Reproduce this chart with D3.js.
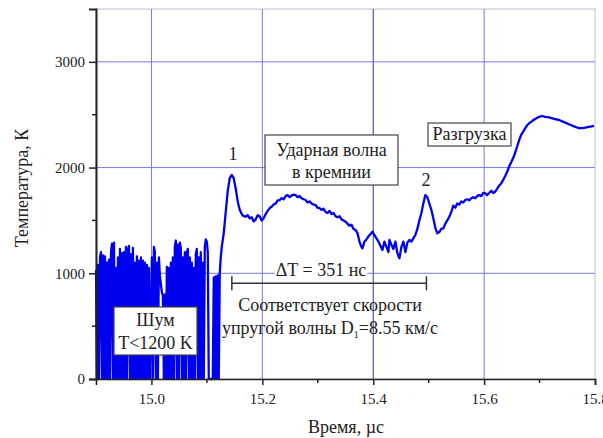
<!DOCTYPE html>
<meta charset="utf-8">
<style>
    body { margin: 0; background: #fff; }
    svg text { font-family: "Liberation Serif", "Times New Roman", Tinos, "DejaVu Serif", serif !important; fill: #222; }
</style>
<div id="my_dataviz"></div>
<script src="https://d3js.org/d3.v7.min.js"></script>
<script>

    // noise part of the record (signal dropouts to zero)
    var noiseTime = [14.9000, 14.9018, 14.9036, 14.9054, 14.9072, 14.9090, 14.9108, 14.9126, 14.9144, 14.9162,
        14.9180, 14.9198, 14.9216, 14.9234, 14.9252, 14.9270, 14.9288, 14.9306, 14.9324, 14.9342,
        14.9360, 14.9378, 14.9396, 14.9414, 14.9432, 14.9450, 14.9468, 14.9486, 14.9504, 14.9522,
        14.9540, 14.9558, 14.9576, 14.9594, 14.9612, 14.9630, 14.9648, 14.9666, 14.9684, 14.9702,
        14.9720, 14.9738, 14.9756, 14.9774, 14.9792, 14.9810, 14.9828, 14.9846, 14.9864, 14.9882,
        14.9900, 14.9918, 14.9936, 14.9954, 14.9972, 15.0008, 15.0026, 15.0044, 15.0062, 15.0080,
        15.0098, 15.0116, 15.0134, 15.0152, 15.0170, 15.0188, 15.0206, 15.0224, 15.0242, 15.0260,
        15.0278, 15.0296, 15.0314, 15.0332, 15.0350, 15.0368, 15.0386, 15.0404, 15.0422, 15.0440,
        15.0458, 15.0476, 15.0494, 15.0512, 15.0530, 15.0548, 15.0566, 15.0584, 15.0602, 15.0620,
        15.0638, 15.0656, 15.0674, 15.0692, 15.0710, 15.0728, 15.0746, 15.0764, 15.0782, 15.0800,
        15.0818, 15.0836, 15.0854, 15.0872, 15.0890, 15.0908, 15.0926, 15.0944, 15.0962, 15.0980,
        15.0998, 15.1016, 15.1034, 15.1052, 15.1106, 15.1124, 15.1142, 15.1160, 15.1178, 15.1196,
        15.1214, 15.1232, 15.1250, 15.1268, 15.1304, 15.1340, 15.1376, 15.1412];
    var noiseTemp = [1030, 0, 1080, 0, 1150, 1200, 0, 1170, 0, 1160,
        0, 1100, 0, 1130, 0, 1200, 1280, 0, 1290, 0,
        1050, 0, 1150, 0, 1230, 0, 1190, 0, 1200, 0,
        1250, 0, 1220, 1260, 0, 1180, 0, 1240, 0, 1100,
        0, 1160, 0, 1120, 0, 1150, 0, 1120, 0, 1100,
        0, 1080, 0, 1050, 0, 1150, 0, 1250, 1200, 0,
        1100, 0, 1150, 980, 900, 820, 790, 0, 800, 0,
        1060, 0, 1050, 0, 1100, 0, 1150, 0, 1250, 1310,
        0, 1270, 0, 1290, 1240, 0, 1150, 0, 1200, 0,
        1200, 1230, 0, 1150, 0, 1100, 0, 1050, 0, 1180,
        1230, 0, 1150, 0, 1200, 0, 1100, 0, 1250, 1320,
        1300, 1200, 0, 0, 0, 960, 0, 970, 0, 980,
        0, 1000, 1150, 1250, 1380, 1580, 1780, 1900];

    // shock wave and release part
    var waveTime = [15.1448, 15.1484, 15.1520, 15.1556, 15.1592, 15.1628, 15.1664, 15.1700, 15.1736, 15.1772,
        15.1808, 15.1844, 15.1880, 15.1916, 15.1952, 15.1988, 15.2024, 15.2060, 15.2096, 15.2132,
        15.2168, 15.2204, 15.2240, 15.2276, 15.2312, 15.2348, 15.2384, 15.2420, 15.2456, 15.2492,
        15.2528, 15.2564, 15.2600, 15.2636, 15.2672, 15.2708, 15.2744, 15.2780, 15.2816, 15.2852,
        15.2888, 15.2924, 15.2960, 15.2996, 15.3032, 15.3068, 15.3104, 15.3140, 15.3176, 15.3212,
        15.3248, 15.3284, 15.3320, 15.3356, 15.3392, 15.3428, 15.3464, 15.3500, 15.3536, 15.3572,
        15.3608, 15.3644, 15.3680, 15.3716, 15.3752, 15.3788, 15.3806, 15.3842, 15.3878, 15.3914,
        15.3950, 15.3986, 15.4022, 15.4058, 15.4094, 15.4130, 15.4166, 15.4202, 15.4238, 15.4274,
        15.4292, 15.4328, 15.4364, 15.4400, 15.4436, 15.4472, 15.4508, 15.4544, 15.4580, 15.4616,
        15.4652, 15.4688, 15.4724, 15.4760, 15.4796, 15.4832, 15.4868, 15.4904, 15.4940, 15.4976,
        15.5012, 15.5048, 15.5084, 15.5120, 15.5156, 15.5192, 15.5228, 15.5264, 15.5300, 15.5336,
        15.5372, 15.5408, 15.5444, 15.5480, 15.5516, 15.5552, 15.5588, 15.5624, 15.5660, 15.5696,
        15.5732, 15.5768, 15.5804, 15.5840, 15.5876, 15.5912, 15.5948, 15.5984, 15.6020, 15.6056,
        15.6092, 15.6128, 15.6164, 15.6200, 15.6236, 15.6272, 15.6308, 15.6344, 15.6380, 15.6416,
        15.6452, 15.6488, 15.6524, 15.6560, 15.6596, 15.6632, 15.6668, 15.6704, 15.6740, 15.6776,
        15.6812, 15.6866, 15.6920, 15.6992, 15.7046, 15.7100, 15.7172, 15.7262, 15.7352, 15.7442,
        15.7532, 15.7622, 15.7712, 15.7802, 15.7892, 15.7982];
    var waveTemp = [1930, 1900, 1800, 1680, 1600, 1560, 1540, 1535, 1550, 1520,
        1530, 1490, 1510, 1550, 1540, 1500, 1520, 1560, 1590, 1615,
        1630, 1650, 1660, 1690, 1693, 1710, 1700, 1730, 1740, 1720,
        1735, 1745, 1740, 1720, 1730, 1710, 1700, 1693, 1670, 1680,
        1660, 1650, 1646, 1620, 1617, 1600, 1610, 1580, 1570, 1590,
        1560, 1570, 1540, 1530, 1540, 1510, 1500, 1488, 1470, 1450,
        1460, 1420, 1410, 1380, 1300, 1250, 1236, 1300, 1320, 1350,
        1370, 1394, 1360, 1330, 1300, 1260, 1220, 1300, 1250, 1200,
        1315, 1270, 1230, 1300, 1190, 1142, 1250, 1300, 1200, 1290,
        1315, 1300, 1330, 1362, 1420, 1500, 1568, 1660, 1740, 1720,
        1660, 1600, 1520, 1430, 1378, 1390, 1420, 1425, 1470, 1500,
        1535, 1580, 1640, 1620, 1660, 1650, 1680, 1670, 1693, 1700,
        1690, 1710, 1720, 1710, 1730, 1740, 1730, 1760, 1757, 1740,
        1760, 1780, 1760, 1772, 1800, 1830, 1850, 1883, 1920, 1960,
        2010, 2050, 2090, 2140, 2200, 2260, 2310, 2340, 2370, 2400,
        2419, 2440, 2460, 2480, 2488, 2480, 2475, 2460, 2450, 2430,
        2410, 2390, 2372, 2375, 2385, 2394];

    var xGrid = [15.0, 15.2, 15.4, 15.6];
    var yGrid = [1000, 2000, 3000];
    var xTicks = [15.0, 15.2, 15.4, 15.6, 15.8];
    var xMinor = [15.1, 15.3, 15.5, 15.7];
    var yTicks = [0, 1000, 2000, 3000];
    var yMinor = [500, 1500, 2500];

    // delta T interval: peak 1 to peak 2
    var intervalStart = 15.145, intervalEnd = 15.496, intervalLevel = 905;

    var width = 603, height = 438;
    var margin = { top: 9, right: 8, bottom: 59, left: 96 };

    var svg = d3.select("#my_dataviz")
        .append("svg")
        .attr("width", width)
        .attr("height", height);

    var x = d3.scaleLinear().domain([14.9, 15.8]).range([margin.left, width - margin.right]);
    var y = d3.scaleLinear().domain([0, 3500]).range([height - margin.bottom, margin.top]);

    // frame (top/right) light grey
    svg.append("rect")
        .attr("x", x(14.9)).attr("y", y(3500))
        .attr("width", x(15.8) - x(14.9)).attr("height", y(0) - y(3500))
        .attr("fill", "none").attr("stroke", "#c8c8d8").attr("stroke-width", 1.2);

    // grid
    svg.selectAll(".gx").data(xGrid).enter().append("line")
        .attr("x1", function (d) { return x(d); }).attr("x2", function (d) { return x(d); })
        .attr("y1", y(0)).attr("y2", y(3500))
        .attr("stroke", function (d) { return d === 15.4 ? "#35358a" : "#7878ee"; })
        .attr("stroke-width", 1);
    svg.selectAll(".gy").data(yGrid).enter().append("line")
        .attr("x1", x(14.9)).attr("x2", x(15.8))
        .attr("y1", function (d) { return y(d); }).attr("y2", function (d) { return y(d); })
        .attr("stroke", "#7878ee").attr("stroke-width", 1);

    // signal
    var noise = noiseTime.map(function (t, i) { return [t, noiseTemp[i]]; });
    var wave = waveTime.map(function (t, i) { return [t, waveTemp[i]]; });
    var line = d3.line().x(function (d) { return x(d[0]); }).y(function (d) { return y(d[1]); });
    svg.append("path")
        .datum(noise.concat(wave))
        .attr("d", line)
        .attr("fill", "none")
        .attr("stroke", "#0000f0")
        .attr("stroke-width", 2.3)
        .attr("stroke-linejoin", "round");

    // axes
    var xAxis = svg.append("g")
        .attr("transform", "translate(0," + y(0) + ")")
        .call(d3.axisBottom(x).tickValues(xTicks).tickSize(6).tickFormat(d3.format(".1f")));
    xAxis.attr("font-family", null);
    xAxis.selectAll(".tick line").attr("stroke", "#222").attr("stroke-width", 1.5);
    xAxis.select(".domain").attr("stroke", "#222").attr("stroke-width", 1.6);
    xAxis.selectAll("text").attr("font-size", 15).attr("fill", "#333").attr("dy", "1.05em");
    svg.append("g").selectAll("line").data(xMinor).enter().append("line")
        .attr("x1", function (d) { return x(d); }).attr("x2", function (d) { return x(d); })
        .attr("y1", y(0)).attr("y2", y(0) + 4)
        .attr("stroke", "#222").attr("stroke-width", 1.5);

    var yAxis = svg.append("g")
        .attr("transform", "translate(" + x(14.9) + ",0)")
        .call(d3.axisLeft(y).tickValues(yTicks).tickSize(7).tickFormat(d3.format("d")));
    yAxis.attr("font-family", null);
    yAxis.selectAll(".tick line").attr("stroke", "#222").attr("stroke-width", 1.5);
    yAxis.select(".domain").attr("stroke", "#222").attr("stroke-width", 2);
    yAxis.selectAll("text").attr("font-size", 15).attr("fill", "#333").attr("x", -11);
    svg.append("g").selectAll("line").data(yMinor).enter().append("line")
        .attr("x1", x(14.9) - 4).attr("x2", x(14.9))
        .attr("y1", function (d) { return y(d); }).attr("y2", function (d) { return y(d); })
        .attr("stroke", "#222").attr("stroke-width", 1.5);

    // axis titles
    svg.append("text")
        .attr("x", 346).attr("y", 433)
        .attr("text-anchor", "middle").attr("font-size", 18)
        .text("Время, µс");
    svg.append("text")
        .attr("transform", "translate(28,188) rotate(-90)")
        .attr("text-anchor", "middle").attr("font-size", 18)
        .text("Температура, К");

    // interval bar
    var bar = svg.append("g").attr("stroke", "#333").attr("stroke-width", 1.5);
    bar.append("line").attr("x1", x(intervalStart)).attr("x2", x(intervalEnd))
        .attr("y1", y(intervalLevel)).attr("y2", y(intervalLevel));
    [intervalStart, intervalEnd].forEach(function (t) {
        bar.append("line").attr("x1", x(t)).attr("x2", x(t))
            .attr("y1", y(intervalLevel) - 7).attr("y2", y(intervalLevel) + 7);
    });

    // label "ΔT = 351 нс" with white backing
    var dtBack = svg.append("rect").attr("fill", "#fff");
    var dt = svg.append("text")
        .attr("x", 321).attr("y", 276)
        .attr("text-anchor", "middle").attr("font-size", 18)
        .text("ΔT = 351 нс");
    var bb = dt.node().getBBox();
    dtBack.attr("x", bb.x - 1).attr("y", bb.y + 3)
        .attr("width", bb.width + 2).attr("height", bb.height - 6);

    svg.append("text")
        .attr("x", 330).attr("y", 311)
        .attr("text-anchor", "middle").attr("font-size", 18)
        .text("Соответствует скорости");
    var vel = svg.append("text")
        .attr("x", 330).attr("y", 334)
        .attr("text-anchor", "middle").attr("font-size", 18);
    vel.append("tspan").text("упругой волны D");
    vel.append("tspan").attr("font-size", 10).attr("dy", 4).text("1");
    vel.append("tspan").attr("dy", -4).text("=8.55 км/с");

    // boxed labels
    function boxLabel(x0, y0, w, h, lines, cy, lh) {
        svg.append("rect")
            .attr("x", x0).attr("y", y0).attr("width", w).attr("height", h)
            .attr("fill", "#fff").attr("stroke", "#444").attr("stroke-width", 1.2);
        lines.forEach(function (s, i) {
            svg.append("text")
                .attr("x", x0 + w / 2).attr("y", cy + i * lh)
                .attr("text-anchor", "middle").attr("font-size", 18)
                .text(s);
        });
    }
    boxLabel(265, 135, 133, 50, ["Ударная волна", "в кремнии"], 156, 22);
    boxLabel(428, 123, 83, 23, ["Разгрузка"], 140, 0);
    boxLabel(114, 307, 83, 48, ["Шум", "T<1200 K"], 326, 23);

    // peak numbers
    svg.append("text").attr("x", 233).attr("y", 160)
        .attr("text-anchor", "middle").attr("font-size", 18).text("1");
    svg.append("text").attr("x", 426).attr("y", 186)
        .attr("text-anchor", "middle").attr("font-size", 18).text("2");

</script>
